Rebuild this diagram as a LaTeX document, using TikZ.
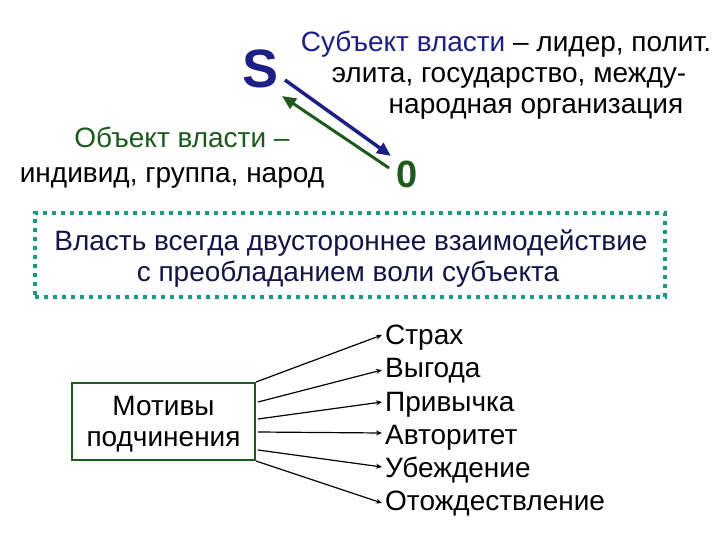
\documentclass[tikz,border=0pt]{standalone}
\usepackage{fontspec}
\setmainfont{Liberation Sans}
\usetikzlibrary{arrows.meta,calc}
\definecolor{navy}{RGB}{30,30,135}
\definecolor{dgreen}{RGB}{30,90,30}
\definecolor{tealdot}{RGB}{25,155,130}
\definecolor{boxtext}{RGB}{20,20,70}
\begin{document}
\begin{tikzpicture}[x=1pt,y=-1pt,
  txt/.style={font=\fontsize{28}{31}\selectfont, inner sep=0pt, anchor=base},
  item/.style={txt, anchor=base west},
  motarrow/.style={-{Stealth[length=6pt,width=5pt]}, line width=1.2pt, black},
  bigarrow/.style={-{Triangle[length=14pt,width=12pt]}, line width=3.5pt}]
\useasboundingbox (0,0) rectangle (720,540);
% S and 0
\node[inner sep=0pt, anchor=base, text=navy, font=\fontsize{54}{54}\selectfont\bfseries] (S) at (261,88) {S};
\node[inner sep=0pt, anchor=base, text=dgreen, font=\fontsize{38}{38}\selectfont\bfseries] (zero) at (407,188) {0};
% subject text
\node[txt] (sub1) at (506,52) {\textcolor{navy}{Субъект власти} – лидер, полит.};
\node[txt] (sub2) at (509,83) {элита, государство, между-};
\node[txt] (sub3) at (536,114) {народная организация};
% object text
\node[txt, text=dgreen] (obj1) at (182,148) {Объект власти –};
\node[txt] (obj2) at (172,183) {индивид, группа, народ};
% arrows
\draw[bigarrow, navy] ($(S.base)+(24,-8)$) -- ($(zero.base)+(-16,-32)$);
\draw[bigarrow, dgreen, line width=3pt] ($(zero.base)+(-18,-20)$) -- ($(S.base)+(21,8)$);
% dotted box
\node[draw=tealdot, line width=4pt, dash pattern=on 4pt off 5pt, minimum width=630pt, minimum height=84pt] (frame) at (350,255) {};
\node[txt, text=boxtext] (power1) at (351,250) {Власть всегда двустороннее взаимодействие};
\node[txt, text=boxtext] (power2) at (348,281) {с преобладанием воли субъекта};
% motives box
\node[draw=dgreen, line width=2pt, minimum width=183pt, minimum height=77pt, inner sep=0pt] (mot) at (163.5,421.5) {};
\node[txt] (mot1) at (163.5,415) {Мотивы};
\node[txt] (mot2) at (163.5,446) {подчинения};
% list
\node[item] (i1) at (385,344) {Страх};
\node[item] (i2) at (385,377) {Выгода};
\node[item] (i3) at (385,411) {Привычка};
\node[item] (i4) at (385,444) {Авторитет};
\node[item] (i5) at (385,477) {Убеждение};
\node[item] (i6) at (385,510) {Отождествление};
\draw[motarrow] (mot.north east) -- ($(i1.base west)+(-3,-9)$);
\draw[motarrow] ($(mot.east)+(2,-19.5)$) -- ($(i2.base west)+(-3,-7)$);
\draw[motarrow] ($(mot.east)+(2,-2.5)$) -- ($(i3.base west)+(-3,-9)$);
\draw[motarrow] ($(mot.east)+(2,10.5)$) -- ($(i4.base west)+(-3,-11)$);
\draw[motarrow] ($(mot.east)+(2,28.5)$) -- ($(i5.base west)+(-3,-10)$);
\draw[motarrow] (mot.south east) -- ($(i6.base west)+(-3,-7)$);
\end{tikzpicture}
\end{document}
